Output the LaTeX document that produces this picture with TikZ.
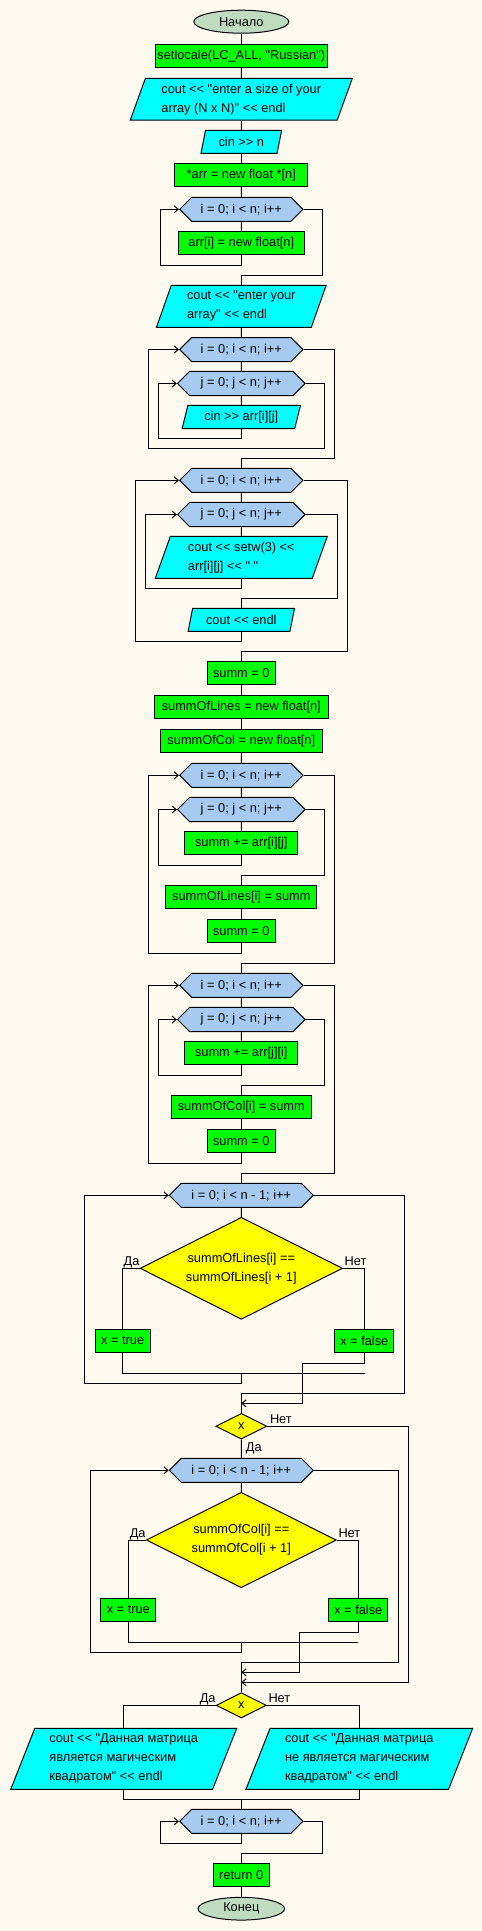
\documentclass[tikz,border=0pt]{standalone}
\usepackage{fontspec}
\setmainfont{Liberation Sans}[Ligatures=TeXOff]
\usetikzlibrary{shapes.geometric,shapes.symbols,arrows.meta}
\definecolor{bgc}{HTML}{FFFAEF}
\definecolor{procg}{HTML}{00FF00}
\definecolor{ioc}{HTML}{00FFFF}
\definecolor{loopb}{HTML}{A6CAF0}
\definecolor{condy}{HTML}{FFFF00}
\definecolor{termg}{HTML}{C0DCC0}
\newcommand\fsz{\fontsize{12.8}{19}\selectfont}
\begin{document}
\begin{tikzpicture}[x=1pt,y=-1pt,
  base/.style={draw=black, line width=1pt, inner sep=0pt, font=\fsz, text=black},
  proc/.style={base, rectangle, fill=procg},
  io/.style={base, trapezium, trapezium left angle=64, trapezium right angle=116, trapezium stretches body, fill=ioc, align=left},
  loopx/.style={base, signal, signal to=west and east, signal pointer angle=90, fill=loopb},
  cond/.style={base, diamond, aspect=2, fill=condy, align=center},
  term/.style={base, ellipse, fill=termg},
  ln/.style={line width=1pt},
  arr/.style={line width=1pt, -{Straight Barb[length=4pt,width=7pt]}},
  lbl/.style={font=\fsz, inner sep=0pt, text=black}]
\fill[bgc] (0,0) rectangle (482,1931);
\useasboundingbox (0,0) rectangle (482,1931);

% nodes
\node[term, minimum width=95, minimum height=23] (start) at (241.3,21.7) {Начало};
\node[proc, minimum width=172.4, minimum height=23] (n1) at (241.3,55.8) {setlocale(LC\_ALL, "Russian")};
\node[io, minimum width=222, minimum height=41.7] (n2) at (241.3,99.2) {cout << "enter a size of your\\array (N x N)" << endl};
\node[io, minimum width=80.7, minimum height=23] (n3) at (241.3,141.8) {cin >> n};
\node[proc, minimum width=133, minimum height=23.4] (n4) at (241.3,175) {*arr = new float *[n]};
\node[loopx, minimum width=123.3, minimum height=24] (L1) at (241.3,209.3) {i = 0; i < n; i++};
\node[proc, minimum width=126, minimum height=23.3] (n5) at (241.3,242.7) {arr[i] = new float[n]};
\node[io, minimum width=169.7, minimum height=42] (n6) at (241.3,306.3) {cout << "enter your\\array" << endl};
\node[loopx, minimum width=123.3, minimum height=24] (L2) at (241.3,349.5) {i = 0; i < n; i++};
\node[loopx, minimum width=127.6, minimum height=24.4] (L3) at (241.3,383.5) {j = 0; j < n; j++};
\node[io, minimum width=118.4, minimum height=23.3] (n7) at (241.3,417) {cin >> arr[i][j]};
\node[loopx, minimum width=123.3, minimum height=24] (L4) at (241.3,480.3) {i = 0; i < n; i++};
\node[loopx, minimum width=127.6, minimum height=24.4] (L5) at (241.3,514.5) {j = 0; j < n; j++};
\node[io, minimum width=172, minimum height=42] (n8) at (241.3,557.3) {cout << setw(3) <<\\arr[i][j] << " "};
\node[io, minimum width=106.4, minimum height=23] (n9) at (241.3,619.8) {cout << endl};
\node[proc, minimum width=68, minimum height=23.3] (n10) at (241.3,672.7) {summ = 0};
\node[proc, minimum width=173.4, minimum height=23] (n11) at (241.3,706.8) {summOfLines = new float[n]};
\node[proc, minimum width=162.4, minimum height=23] (n12) at (241.3,740.8) {summOfCol = new float[n]};
\node[loopx, minimum width=123.3, minimum height=24] (L6) at (241.3,775.3) {i = 0; i < n; i++};
\node[loopx, minimum width=127.6, minimum height=24.4] (L7) at (241.3,809.5) {j = 0; j < n; j++};
\node[proc, minimum width=113, minimum height=23.3] (n13) at (241.3,842.7) {summ += arr[i][j]};
\node[proc, minimum width=151, minimum height=23] (n14) at (241.3,896.8) {summOfLines[i] = summ};
\node[proc, minimum width=68, minimum height=23] (n15) at (241.3,930.8) {summ = 0};
\node[loopx, minimum width=123.3, minimum height=24] (L8) at (241.3,985.3) {i = 0; i < n; i++};
\node[loopx, minimum width=127.6, minimum height=24.4] (L9) at (241.3,1019.5) {j = 0; j < n; j++};
\node[proc, minimum width=113, minimum height=23.3] (n16) at (241.3,1052.7) {summ += arr[j][i]};
\node[proc, minimum width=140, minimum height=23] (n17) at (241.3,1106.8) {summOfCol[i] = summ};
\node[proc, minimum width=68, minimum height=23] (n18) at (241.3,1140.8) {summ = 0};
\node[loopx, minimum width=144, minimum height=24] (L10) at (241.3,1195.3) {i = 0; i < n - 1; i++};
\node[cond, minimum width=202.4, minimum height=102] (D1) at (241.3,1268.3) {summOfLines[i] ==\\summOfLines[i + 1]};
\node[proc, minimum width=55, minimum height=23] (n19) at (122.7,1340.8) {x = true};
\node[proc, minimum width=59, minimum height=23] (n20) at (364.3,1340.8) {x = false};
\node[cond, minimum width=51, minimum height=25.7] (D2) at (241.3,1426.2) {x};
\node[loopx, minimum width=144, minimum height=24] (L11) at (241.3,1470.3) {i = 0; i < n - 1; i++};
\node[cond, minimum width=190, minimum height=95.4] (D3) at (241.3,1540) {summOfCol[i] ==\\summOfCol[i + 1]};
\node[proc, minimum width=55, minimum height=23] (n21) at (128.3,1609.8) {x = true};
\node[proc, minimum width=59, minimum height=23] (n22) at (358.3,1609.8) {x = false};
\node[cond, minimum width=50, minimum height=25.3] (D4) at (241.3,1705.3) {x};
\node[io, minimum width=226, minimum height=61] (n23) at (123.7,1758.8) {cout << "Данная матрица\\является магическим\\квадратом" << endl};
\node[io, minimum width=226.7, minimum height=61] (n24) at (359.3,1758.8) {cout << "Данная матрица\\не является магическим\\квадратом" << endl};
\node[loopx, minimum width=123.3, minimum height=24] (L12) at (241.3,1821.3) {i = 0; i < n; i++};
\node[proc, minimum width=55.4, minimum height=23.4] (n25) at (241.3,1875) {return 0};
\node[term, minimum width=86.6, minimum height=22.7] (stop) at (241.3,1908.7) {Конец};

% labels
\node[lbl, anchor=base east] (la1) at ([yshift=3]D1.west) {Да};
\node[lbl, anchor=base west] (lb1) at ([xshift=1.5,yshift=3]D1.east) {Нет};
\node[lbl, anchor=base west] (lb2) at ([xshift=2.5,yshift=3]D2.east) {Нет};
\node[lbl, anchor=base west] (la2) at (245.7,1451) {Да};
\node[lbl, anchor=base east] (la3) at ([yshift=3]D3.west) {Да};
\node[lbl, anchor=base west] (lb3) at ([xshift=1.5,yshift=3]D3.east) {Нет};
\node[lbl, anchor=base east] (la4) at ([yshift=3]D4.west) {Да};
\node[lbl, anchor=base west] (lb4) at ([xshift=1.5,yshift=3]D4.east) {Нет};

% junction coordinates
\coordinate (m1) at (241.3,1373.3);
\coordinate (j1) at (241.3,1403.3);
\coordinate (m2) at (241.3,1642);
\coordinate (j2) at (241.3,1672.3);
\coordinate (j3) at (241.3,1682.3);
\coordinate (m3) at (241.3,1799.3);

% straight flow
\draw[ln] (start) -- (n1);
\draw[ln] (n1) -- (n2);
\draw[ln] (n2) -- (n3);
\draw[ln] (n3) -- (n4);
\draw[ln] (n4) -- (L1);
\draw[ln] (L1) -- (n5);
\draw[ln] (L2) -- (L3);
\draw[ln] (L3) -- (n7);
\draw[ln] (L4) -- (L5);
\draw[ln] (L5) -- (n8);
\draw[ln] (n10) -- (n11);
\draw[ln] (n11) -- (n12);
\draw[ln] (n12) -- (L6);
\draw[ln] (L6) -- (L7);
\draw[ln] (L7) -- (n13);
\draw[ln] (n14) -- (n15);
\draw[ln] (L8) -- (L9);
\draw[ln] (L9) -- (n16);
\draw[ln] (n17) -- (n18);
\draw[ln] (L10) -- (D1.north);
\draw[ln] (D2.south) -- (L11);
\draw[ln] (L11) -- (D3.north);
\draw[ln] (n25) -- (stop);

% loop 1
\draw[arr] (n5.south) |- (160.7,265) |- (L1.west);
\draw[ln] (L1.east) -| (322.3,275) -| (n6.north);
% loops 2/3
\draw[arr] (n7.south) |- (158.3,438.3) |- (L3.west);
\draw[arr] (L3.east) -| (324.3,448.3) -| (148.3,349.5) -- (L2.west);
\draw[ln] (n6.south) -- (L2.north);
\draw[ln] (L2.east) -| (334.3,458.3) -| (L4.north);
% loops 4/5
\draw[arr] (n8.south) |- (145.3,588.3) |- (L5.west);
\draw[ln] (L5.east) -| (337.7,598.3) -| (n9.north);
\draw[arr] (n9.south) |- (135.3,641) |- (L4.west);
\draw[ln] (L4.east) -| (347.7,651) -| (n10.north);
% loops 6/7
\draw[arr] (n13.south) |- (158.3,865.3) |- (L7.west);
\draw[ln] (L7.east) -| (324.3,875.3) -| (n14.north);
\draw[arr] (n15.south) |- (148.3,953) |- (L6.west);
\draw[ln] (L6.east) -| (334.3,963) -| (L8.north);
% loops 8/9
\draw[arr] (n16.south) |- (158.3,1075.3) |- (L9.west);
\draw[ln] (L9.east) -| (324.3,1085.3) -| (n17.north);
\draw[arr] (n18.south) |- (148.3,1163.3) |- (L8.west);
\draw[ln] (L8.east) -| (334.3,1173.3) -| (L10.north);
% loop 10 with condition
\draw[ln] (D1.west) -| (n19.north);
\draw[ln] (D1.east) -| (n20.north);
\draw[ln] (n19.south) |- (365,1373.3);
\draw[arr] (m1) |- (84.3,1383.3) |- (L10.west);
\draw[arr] (n20.south) |- (302.3,1363.3) |- (j1);
\draw[ln] (L10.east) -| (404.3,1393.3) -| (D2.north);
% second condition loop
\draw[ln] (D3.west) -| (n21.north);
\draw[ln] (D3.east) -| (n22.north);
\draw[ln] (n21.south) |- (358.3,1642);
\draw[arr] (m2) |- (90.7,1652) |- (L11.west);
\draw[arr] (n22.south) |- (299.3,1632) |- (j2);
\draw[ln] (L11.east) -| (398.3,1662.3) -| (D4.north);
\draw[arr] (D2.east) -| (408.3,1682.3) -- (j3);
% final
\draw[ln] (D4.west) -| (n23.north);
\draw[ln] (D4.east) -| (n24.north);
\draw[ln] (n23.south) |- (m3) -| (n24.south);
\draw[ln] (m3) -- (L12.north);
\draw[arr] (L12.south) |- (160.3,1843.3) |- (L12.west);
\draw[ln] (L12.east) -| (322.3,1853.3) -| (n25.north);
\end{tikzpicture}
\end{document}
